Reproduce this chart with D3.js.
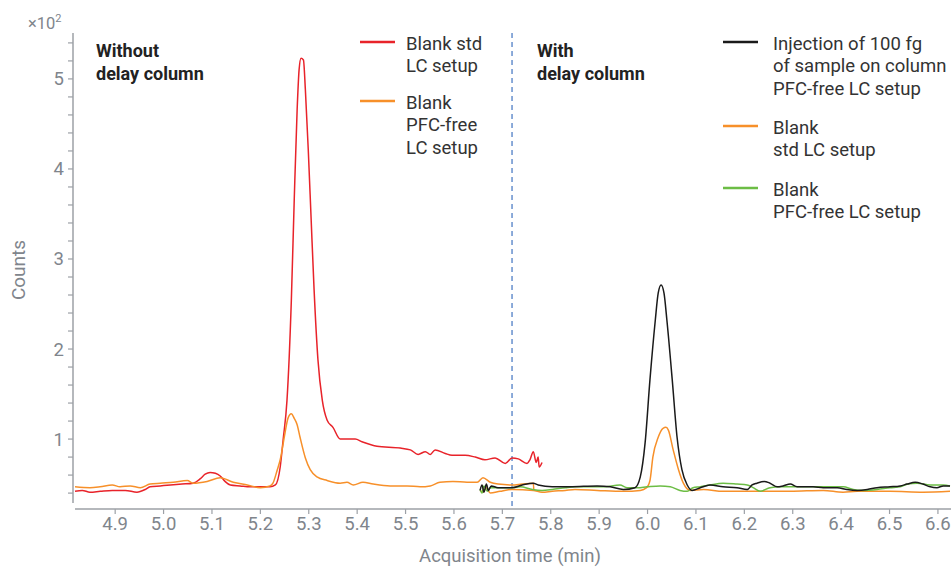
<!DOCTYPE html>
<html><head><meta charset="utf-8">
<script src="https://cdn.jsdelivr.net/npm/d3@7/dist/d3.min.js"></script>
<style>body{margin:0;background:#fff}svg{display:block;font-family:Roboto,"Noto Sans",sans-serif}</style>
</head><body><svg id="c" width="951" height="567"></svg>
<script>
// time (min) and counts (x10^2)
const redT=[4.817,4.832,4.848,4.869,4.894,4.921,4.945,4.962,4.972,4.993,5.014,5.038,5.061,5.076,5.086,5.096,5.107,5.117,5.127,5.138,5.158,5.179,5.200,5.220,5.231,5.241,5.247,5.255,5.264,5.270,5.276,5.280,5.284,5.289,5.293,5.299,5.305,5.311,5.319,5.328,5.338,5.350,5.365,5.396,5.410,5.441,5.489,5.510,5.526,5.541,5.551,5.561,5.582,5.596,5.623,5.644,5.664,5.685,5.706,5.720,5.733,5.751,5.757,5.764,5.770,5.774,5.776,5.782];
const redV=[0.42,0.43,0.41,0.42,0.43,0.43,0.41,0.44,0.47,0.48,0.49,0.50,0.51,0.56,0.61,0.63,0.62,0.59,0.53,0.49,0.48,0.47,0.47,0.47,0.49,0.69,0.99,1.43,2.54,3.66,4.66,5.10,5.23,5.21,4.88,4.21,3.43,2.66,1.88,1.43,1.21,1.13,1.00,1.00,0.97,0.92,0.90,0.88,0.83,0.86,0.83,0.88,0.84,0.82,0.82,0.80,0.77,0.79,0.73,0.79,0.78,0.73,0.77,0.86,0.74,0.80,0.69,0.74];
const orangeLT=[4.817,4.848,4.869,4.894,4.910,4.931,4.952,4.972,4.993,5.020,5.049,5.061,5.090,5.117,5.144,5.173,5.200,5.220,5.226,5.235,5.241,5.251,5.257,5.264,5.270,5.276,5.282,5.293,5.303,5.317,5.338,5.365,5.379,5.392,5.412,5.433,5.468,5.503,5.530,5.551,5.571,5.598,5.627,5.648,5.660,5.675,5.691,5.720,5.741,5.764,5.765];
const orangeLV=[0.47,0.46,0.47,0.49,0.47,0.48,0.46,0.50,0.51,0.52,0.54,0.51,0.53,0.57,0.52,0.49,0.46,0.48,0.51,0.66,0.77,1.07,1.23,1.28,1.23,1.16,1.02,0.79,0.66,0.58,0.54,0.51,0.52,0.49,0.52,0.50,0.48,0.48,0.47,0.48,0.52,0.53,0.52,0.52,0.57,0.52,0.50,0.49,0.50,0.51,0.43];
const blackT=[5.654,5.658,5.662,5.667,5.671,5.677,5.691,5.720,5.741,5.764,5.774,5.803,5.840,5.896,5.923,5.950,5.974,5.985,5.995,6.005,6.016,6.022,6.028,6.034,6.040,6.051,6.061,6.071,6.082,6.092,6.109,6.129,6.156,6.185,6.206,6.216,6.226,6.241,6.253,6.268,6.280,6.295,6.309,6.321,6.342,6.363,6.392,6.412,6.433,6.454,6.474,6.501,6.522,6.536,6.553,6.569,6.584,6.598,6.611,6.625];
const blackV=[0.43,0.49,0.41,0.50,0.43,0.48,0.46,0.46,0.49,0.51,0.49,0.47,0.47,0.48,0.47,0.44,0.46,0.58,0.96,1.66,2.32,2.62,2.71,2.62,2.32,1.66,1.02,0.66,0.49,0.43,0.46,0.49,0.47,0.46,0.44,0.49,0.51,0.53,0.51,0.47,0.48,0.50,0.47,0.47,0.47,0.46,0.46,0.44,0.43,0.44,0.46,0.47,0.48,0.50,0.52,0.50,0.47,0.46,0.48,0.48];
const orangeRT=[5.654,5.660,5.667,5.675,5.695,5.720,5.764,5.782,5.803,5.830,5.850,5.896,5.950,5.985,5.998,6.005,6.011,6.022,6.032,6.038,6.043,6.053,6.064,6.074,6.088,6.116,6.156,6.226,6.295,6.363,6.404,6.433,6.501,6.569,6.625];
const orangeRV=[0.43,0.41,0.46,0.40,0.42,0.44,0.43,0.41,0.42,0.43,0.44,0.43,0.42,0.43,0.46,0.54,0.80,1.02,1.12,1.13,1.10,0.88,0.66,0.51,0.43,0.44,0.42,0.42,0.42,0.43,0.41,0.42,0.42,0.41,0.42];
const greenT=[5.654,5.658,5.662,5.669,5.675,5.691,5.720,5.737,5.762,5.782,5.803,5.830,5.850,5.908,5.943,5.958,5.979,5.999,6.026,6.047,6.067,6.082,6.094,6.109,6.129,6.156,6.185,6.206,6.218,6.233,6.253,6.274,6.315,6.350,6.383,6.404,6.425,6.445,6.474,6.501,6.522,6.538,6.557,6.584,6.611,6.625];
const greenV=[0.44,0.40,0.48,0.42,0.46,0.46,0.46,0.47,0.44,0.43,0.44,0.46,0.47,0.47,0.49,0.46,0.46,0.47,0.48,0.47,0.43,0.42,0.46,0.47,0.49,0.51,0.50,0.49,0.46,0.42,0.46,0.47,0.47,0.47,0.47,0.47,0.44,0.43,0.44,0.46,0.47,0.50,0.51,0.49,0.49,0.48];
const xTicks=[4.9,5.0,5.1,5.2,5.3,5.4,5.5,5.6,5.7,5.8,5.9,6.0,6.1,6.2,6.3,6.4,6.5,6.6];
const yMajor=[1,2,3,4,5];
const yMinor=[0.4,0.6,0.8,1.0,1.2,1.4,1.6,1.8,2.0,2.2,2.4,2.6,2.8,3.0,3.2,3.4,3.6,3.8,4.0,4.2,4.4,4.6,4.8,5.0,5.2,5.4];
const dividerT=5.72;
const legendLeft=[{name:["Blank std","LC setup"],color:"#e8232a"},{name:["Blank","PFC-free","LC setup"],color:"#f7902a"}];
const legendRight=[{name:["Injection of 100 fg","of sample on column","PFC-free LC setup"],color:"#1a1a1a"},{name:["Blank","std LC setup"],color:"#f7902a"},{name:["Blank","PFC-free LC setup"],color:"#6cbd45"}];
const series=[
 {t:redT,v:redV,color:"#e8232a"},
 {t:orangeLT,v:orangeLV,color:"#f7902a"},
 {t:orangeRT,v:orangeRV,color:"#f7902a"},
 {t:greenT,v:greenV,color:"#6cbd45"},
 {t:blackT,v:blackV,color:"#1a1a1a"}
];

const svg=d3.select("#c");
const x=d3.scaleLinear().domain([4.817,6.627]).range([75,951]);
const y=d3.scaleLinear().domain([0.29,5.51]).range([503,33]);
const axisCol="#9ca0a6", txtCol="#80858c";

// y axis
const ya=svg.append("g").attr("transform","translate(73,0)");
ya.append("line").attr("x1",0).attr("x2",0).attr("y1",y(5.51)).attr("y2",y(0.29)).attr("stroke",axisCol).attr("stroke-width",1.5);
ya.selectAll("line.mt").data(yMinor).join("line").attr("class","mt").attr("x1",-5).attr("x2",0).attr("y1",d=>y(d)).attr("y2",d=>y(d)).attr("stroke",axisCol).attr("stroke-width",1.2);
ya.selectAll("text").data(yMajor).join("text").attr("x",-9).attr("y",d=>y(d)+6.5).attr("text-anchor","end").attr("font-size",18.5).attr("fill",txtCol).text(d=>d);

// x axis
const xa=svg.append("g").attr("transform","translate(0,509)");
xa.append("line").attr("x1",75).attr("x2",951).attr("stroke",axisCol).attr("stroke-width",1.5);
xa.selectAll("line.t").data(xTicks).join("line").attr("class","t").attr("x1",d=>x(d)).attr("x2",d=>x(d)).attr("y1",0).attr("y2",5).attr("stroke",axisCol).attr("stroke-width",1.2);
xa.selectAll("text").data(xTicks).join("text").attr("x",d=>x(d)).attr("y",21).attr("text-anchor","middle").attr("font-size",18.5).attr("fill",txtCol).text(d=>d.toFixed(1));

svg.append("text").attr("x",510).attr("y",562).attr("text-anchor","middle").attr("font-size",18.5).attr("fill",txtCol).text("Acquisition time (min)");
svg.append("text").attr("transform","translate(25,270) rotate(-90)").attr("text-anchor","middle").attr("font-size",19).attr("fill",txtCol).text("Counts");
const ex=svg.append("text").attr("x",28).attr("y",29).attr("font-size",16.5).attr("fill",txtCol);
ex.append("tspan").text("×10");
ex.append("tspan").attr("dy",-7).attr("font-size",11).text("2");

// divider
svg.append("line").attr("x1",x(dividerT)).attr("x2",x(dividerT)).attr("y1",33).attr("y2",509).attr("stroke","#4f7fc6").attr("stroke-width",1.3).attr("stroke-dasharray","5,4");

// lines
const line=d3.line().x(d=>x(d[0])).y(d=>y(d[1])).curve(d3.curveMonotoneX);
series.forEach(s=>{
  svg.append("path").attr("d",line(s.t.map((t,i)=>[t,s.v[i]]))).attr("fill","none").attr("stroke",s.color).attr("stroke-width",1.5).attr("stroke-linejoin","round");
});

// annotations
function block(x0,y0,lines,opts){
  const t=svg.append("text").attr("x",x0).attr("y",y0).attr("font-size",opts.size||18.5).attr("fill",opts.fill).attr("font-weight",opts.weight||400);
  lines.forEach((l,i)=>t.append("tspan").attr("x",x0).attr("y",y0+i*22.8).text(l));
}
block(96,57,["Without","delay column"],{fill:"#222",weight:700,size:18});
block(537,57,["With","delay column"],{fill:"#222",weight:700,size:18});

const leftY=[42,101], rightY=[42,126,188];
legendLeft.forEach((l,i)=>{
  svg.append("line").attr("x1",360).attr("x2",395).attr("y1",leftY[i]).attr("y2",leftY[i]).attr("stroke",l.color).attr("stroke-width",2.5);
  block(406,leftY[i]+7.5,l.name,{fill:"#333"});
});
legendRight.forEach((l,i)=>{
  svg.append("line").attr("x1",723).attr("x2",758).attr("y1",rightY[i]).attr("y2",rightY[i]).attr("stroke",l.color).attr("stroke-width",2.5);
  block(773,rightY[i]+7.5,l.name,{fill:"#333"});
});
</script></body></html>
